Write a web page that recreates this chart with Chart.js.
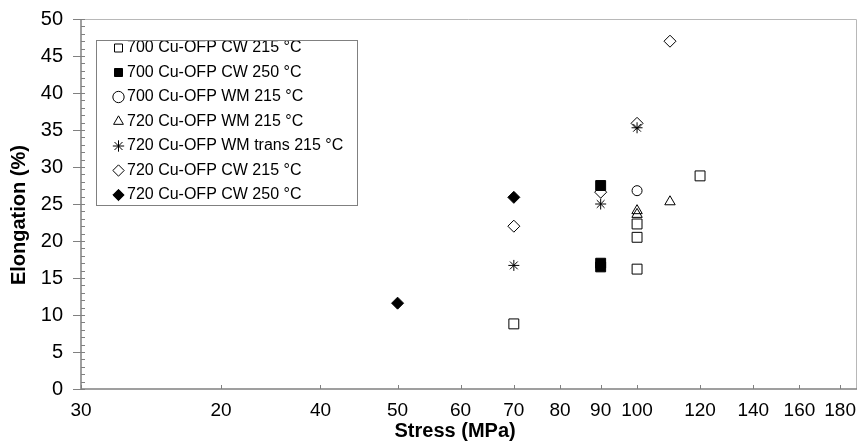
<!DOCTYPE html>
<html>
<head>
<meta charset="utf-8">
<script src="https://cdn.jsdelivr.net/npm/chart.js@4.4.1/dist/chart.umd.min.js"></script>
<style>
  html, body { margin: 0; padding: 0; background: #fff; }
  #wrap { width: 859px; height: 441px; }
</style>
</head>
<body>
<div id="wrap"><canvas id="chart" width="859" height="441"></canvas></div>
<script>
// stress axis is logarithmic; the first two labels are printed swapped in the original
const xTickValues = [20, 30, 40, 50, 60, 70, 80, 90, 100, 120, 140, 160, 180];
const xTickLabels = ['30', '20', '40', '50', '60', '70', '80', '90', '100', '120', '140', '160', '180'];

const seriesNames = [
  '700 Cu-OFP CW 215 °C',
  '700 Cu-OFP CW 250 °C',
  '700 Cu-OFP WM 215 °C',
  '720 Cu-OFP WM 215 °C',
  '720 Cu-OFP WM trans 215 °C',
  '720 Cu-OFP CW 215 °C',
  '720 Cu-OFP CW 250 °C'
];

// stress (MPa) / elongation (%) per series
const cw700t215Stress = [70, 100, 100, 100, 120];
const cw700t215Elong = [8.8, 16.2, 20.5, 22.3, 28.8];
const cw700t250Stress = [90, 90, 90];
const cw700t250Elong = [16.5, 17.0, 27.5];
const wm700t215Stress = [100];
const wm700t215Elong = [26.8];
const wm720t215Stress = [100, 100, 110];
const wm720t215Elong = [23.6, 24.1, 25.3];
const wmTrans720t215Stress = [70, 90, 100];
const wmTrans720t215Elong = [16.7, 25.0, 35.3];
const cw720t215Stress = [70, 90, 100, 110];
const cw720t215Elong = [22.0, 26.6, 35.9, 47.0];
const cw720t250Stress = [50, 70];
const cw720t250Elong = [11.6, 25.9];

const FONT = "'Liberation Sans', Arial, sans-serif";
const axisGray = '#808080';

function pts(xs, ys) {
  return xs.map((x, i) => ({ x: x, y: ys[i] }));
}

function series(i, xs, ys, style, radius, filled) {
  const fill = filled ? '#000' : 'rgba(0,0,0,0)';
  return {
    label: seriesNames[i],
    data: pts(xs, ys),
    pointStyle: style,
    pointRadius: radius,
    pointHoverRadius: radius,
    backgroundColor: fill,
    borderColor: '#000',
    pointBackgroundColor: fill,
    pointBorderColor: '#000',
    borderWidth: 1,
    pointBorderWidth: 1
  };
}

// tick marks, plot frame and the legend box
const framePlugin = {
  id: 'frame',
  afterLayout(chart) {
    const lg = chart.legend;
    const area = chart.chartArea;
    lg.left = area.left + 28.5;
    lg.top = area.top + 12.5;
    lg.right = chart.width;
    lg.bottom = chart.height;
  },
  afterDraw(chart) {
    const ctx = chart.ctx;
    const { left, right, top, bottom } = chart.chartArea;
    const xs = chart.scales.x;
    const ys = chart.scales.y;
    ctx.save();

    ctx.strokeStyle = '#b8b8b8';
    ctx.lineWidth = 1;
    ctx.beginPath();
    ctx.moveTo(left, top + 0.5);
    ctx.lineTo(right - 0.5, top + 0.5);
    ctx.lineTo(right - 0.5, bottom);
    ctx.stroke();

    ctx.strokeStyle = axisGray;
    ctx.lineWidth = 1.5;
    ctx.beginPath();
    ctx.moveTo(left, top);
    ctx.lineTo(left, bottom);
    ctx.lineTo(right, bottom);
    ctx.stroke();

    ctx.lineWidth = 1;
    ctx.beginPath();
    for (let v = ys.min; v <= ys.max; v++) {
      const py = Math.round(ys.getPixelForValue(v)) + 0.5;
      ctx.moveTo(v % 5 === 0 ? left - 8 : left, py);
      ctx.lineTo(left + 4, py);
    }
    xs.ticks.forEach(t => {
      const px = Math.round(xs.getPixelForValue(t.value)) + 0.5;
      ctx.moveTo(px, bottom);
      ctx.lineTo(px, bottom - 4);
    });
    ctx.stroke();

    const boxes = chart.legend.legendHitBoxes;
    if (boxes && boxes.length) {
      const first = boxes[0];
      const last = boxes[boxes.length - 1];
      const x0 = Math.round(first.left - 22) + 0.5;
      const y0 = Math.round(first.top - 0.5) + 0.5;
      const x1 = Math.round(Math.max(...boxes.map(b => b.left + b.width)) + 14) + 0.5;
      const y1 = Math.round(last.top + last.height + 1.5) + 0.5;
      ctx.strokeStyle = axisGray;
      ctx.strokeRect(x0, y0, x1 - x0, y1 - y0);
    }
    ctx.restore();
  }
};

new Chart(document.getElementById('chart'), {
  type: 'scatter',
  data: {
    datasets: [
      series(0, cw700t215Stress, cw700t215Elong, 'rect', 7, false),
      series(1, cw700t250Stress, cw700t250Elong, 'rect', 7, true),
      series(2, wm700t215Stress, wm700t215Elong, 'circle', 5, false),
      series(3, wm720t215Stress, wm720t215Elong, 'triangle', 6, false),
      series(4, wmTrans720t215Stress, wmTrans720t215Elong, 'star', 5.5, false),
      series(5, cw720t215Stress, cw720t215Elong, 'rectRot', 6, false),
      series(6, cw720t250Stress, cw720t250Elong, 'rectRot', 6, true)
    ]
  },
  options: {
    responsive: false,
    animation: false,
    devicePixelRatio: 1,
    layout: { autoPadding: false, padding: { left: 0, right: 2, top: 19, bottom: 0 } },
    plugins: {
      tooltip: { enabled: false },
      legend: {
        position: 'chartArea',
        align: 'start',
        labels: {
          usePointStyle: true,
          boxWidth: 1,
          boxHeight: 8,
          padding: 8.5,
          color: '#000',
          font: { family: FONT, size: 16 }
        }
      }
    },
    scales: {
      x: {
        type: 'logarithmic',
        min: 20,
        max: 189,
        bounds: 'data',
        afterBuildTicks: s => { s.ticks = xTickValues.map(v => ({ value: v })); },
        afterFit: s => { s.height = 52; s.paddingLeft = 0; s.paddingRight = 0; },
        // invisible tick length keeps labels off the axis without adding side padding
        grid: { display: false, drawTicks: true, tickLength: 10 },
        border: { display: false },
        ticks: {
          autoSkip: false,
          maxRotation: 0,
          minRotation: 0,
          padding: 0,
          color: '#000',
          font: { family: FONT, size: 19 },
          callback: (v, i) => xTickLabels[i]
        },
        title: {
          display: true,
          text: 'Stress (MPa)     ',
          color: '#000',
          font: { family: FONT, size: 20, weight: 'bold', lineHeight: 1 },
          padding: 0
        }
      },
      y: {
        min: 0,
        max: 50,
        afterFit: s => { s.width = 81; s.paddingTop = 0; s.paddingBottom = 0; },
        grid: { display: false, drawTicks: false },
        border: { display: false },
        ticks: {
          stepSize: 5,
          padding: 18,
          color: '#000',
          font: { family: FONT, size: 20 }
        },
        title: {
          display: true,
          text: 'Elongation (%)    ',
          color: '#000',
          font: { family: FONT, size: 20, weight: 'bold', lineHeight: 1 },
          padding: { top: 9, bottom: 0 }
        }
      }
    }
  },
  plugins: [framePlugin]
});
</script>
</body>
</html>
